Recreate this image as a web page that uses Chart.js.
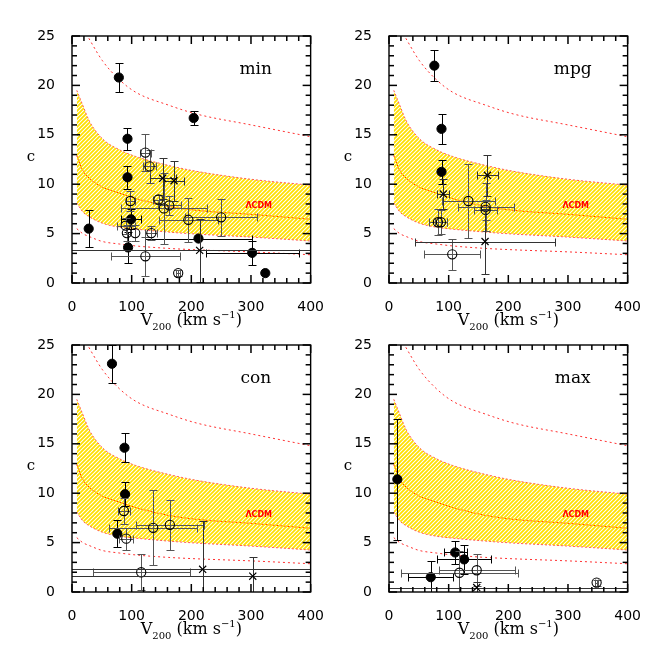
<!DOCTYPE html>
<html>
<head>
<meta charset="utf-8">
<script src="https://cdn.jsdelivr.net/npm/chart.js@4"></script>
<style>
body { margin: 0; background: #fff; }
#wrap { position: relative; width: 664px; height: 664px; overflow: hidden; background: #fff; }
canvas { position: absolute; }
</style>
</head>
<body>
<div id="wrap">
<canvas id="pMin" width="332" height="332" style="left:0;top:0"></canvas>
<canvas id="pMpg" width="332" height="332" style="left:317px;top:0"></canvas>
<canvas id="pCon" width="332" height="332" style="left:0;top:309px"></canvas>
<canvas id="pMax" width="332" height="332" style="left:317px;top:309px"></canvas>
</div>
<script>
// LCDM c(V200) relation (same in every panel)
const bandV = [8, 18, 29, 51, 79, 107, 162, 209, 300, 400];
const bandUpper = [19.5, 18.0, 16.4, 14.6, 13.5, 12.8, 11.9, 11.3, 10.5, 9.9];
const median = [12.9, 11.4, 10.6, 9.7, 9.1, 8.55, 7.75, 7.35, 6.95, 6.45];
const bandLower = [8.1, 7.2, 6.7, 6.05, 5.65, 5.45, 5.15, 4.95, 4.65, 4.25];
const outerLower = [5.5, 5.0, 4.7, 4.2, 3.95, 3.75, 3.5, 3.36, 3.15, 2.86];
const outerUpperV = [24, 51, 79, 107, 162, 209, 300, 400];
const outerUpper = [25.2, 22.5, 20.6, 19.3, 18.0, 17.1, 16.0, 14.8];

// galaxies: [V200, c, dV, dc]
const minFilled = [
	[78.5, 20.8, 0, 1.45], [204, 16.7, 0, 0.7], [93, 14.6, 0, 1.1], [93, 10.7, 0, 1.15],
	[99, 6.45, 17, 1.0], [28, 5.5, 0, 1.9], [94, 3.6, 0, 1.6], [212, 4.5, 90, 0],
	[302, 3.05, 78, 1.2], [324, 1.0, 0, 0],
];
const minOpen = [
	[123, 13.2, 9, 1.85], [130, 11.8, 11, 1.65], [98, 8.3, 8, 1.0], [145, 8.45, 9, 0.5],
	[154, 7.55, 72, 3.6], [163, 7.85, 19, 1.0], [90, 5.8, 15, 0.8], [92, 5.05, 0, 0.8],
	[106, 5.05, 0, 0.8], [133, 5.05, 10, 0.7], [195, 6.4, 50, 2.2], [250, 6.65, 60, 1.9],
	[123, 2.7, 58, 2.0], [178, 1.0, 3, 0.3],
];
const minCross = [[152, 10.6, 22, 2.1], [171, 10.35, 17, 2.0], [214, 3.3, 400, 3.2]];

const mpgFilled = [[76, 22.0, 0, 1.55], [88, 15.6, 0, 1.5], [88, 11.25, 0, 1.25]];
const mpgOpen = [
	[82, 6.15, 15, 1.3], [87, 6.15, 10, 1.2], [133, 8.3, 45, 3.75],
	[162, 7.7, 47, 2.4], [162, 7.4, 19, 1.0], [106, 2.9, 47, 1.6],
];
const mpgCross = [[91, 9.0, 10, 1.5], [165, 10.9, 17, 2.1], [161, 4.2, 118, 3.3]];

const conFilled = [[67, 23.1, 0, 1.9], [88, 14.6, 0, 1.45], [89, 9.9, 0, 1.2], [76, 5.9, 0, 1.35]];
const conOpen = [
	[87, 8.2, 10, 1.35], [91, 5.4, 12, 1.1], [136, 6.5, 74, 3.8],
	[164, 6.8, 57, 2.5], [116, 2.0, 81, 1.8],
];
const conCross = [[219, 2.3, 400, 4.9], [303, 1.6, 400, 1.9]];

const maxFilled = [[14, 11.4, 0, 6.1], [111, 4.0, 19, 1.2], [126, 3.3, 45, 1.5], [70, 1.5, 38, 1.6]];
const maxOpen = [[118, 1.95, 98, 2.2], [147, 2.2, 64, 1.6], [348, 0.95, 3, 0.3]];
const maxCross = [[147, 0.45, 400, 0.6]];

const xTicks = [0, 100, 200, 300, 400];
const yTicks = [0, 5, 10, 15, 20, 25];

function hatch(ctx) {
	const tile = document.createElement("canvas");
	tile.width = 4;
	tile.height = 4;
	const t = tile.getContext("2d");
	t.strokeStyle = "#ffe000";
	t.lineWidth = 1.8;
	t.beginPath();
	t.moveTo(-1, 5); t.lineTo(5, -1);
	t.moveTo(-1, 1); t.lineTo(1, -1);
	t.moveTo(3, 5); t.lineTo(5, 3);
	t.stroke();
	return ctx.createPattern(tile, "repeat");
}

function curve(v, c, color, dash, extra) {
	return Object.assign({
		data: v.map((x, i) => ({ x: x, y: c[i] })),
		borderColor: color,
		borderWidth: 1,
		borderDash: dash,
		pointRadius: 0,
		showLine: true,
		fill: false,
		cubicInterpolationMode: "monotone",
		order: 5,
	}, extra);
}

function points(rows, style, extra) {
	return Object.assign({
		data: rows.map((r) => ({ x: r[0], y: r[1], dx: r[2], dy: r[3] })),
		showLine: false,
		pointStyle: style,
		pointRadius: 4.6,
		borderWidth: 1,
		order: 0,
	}, extra);
}

const errorBars = {
	id: "errorBars",
	beforeDatasetDraw(chart, args) {
		const ds = chart.data.datasets[args.index];
		if (!ds.errColor) return;
		const { ctx, chartArea: a, scales: { x, y } } = chart;
		ctx.save();
		ctx.beginPath();
		ctx.rect(a.left, a.top, a.right - a.left, a.bottom - a.top);
		ctx.clip();
		ctx.setLineDash([]);
		ctx.strokeStyle = ds.errColor;
		ctx.lineWidth = 1;
		const cap = 4;
		ds.data.forEach((p) => {
			const px = Math.round(x.getPixelForValue(p.x)) + 0.5;
			const py = Math.round(y.getPixelForValue(p.y)) + 0.5;
			ctx.beginPath();
			if (p.dx) {
				const x0 = Math.round(x.getPixelForValue(p.x - p.dx)) + 0.5;
				const x1 = Math.round(x.getPixelForValue(p.x + p.dx)) + 0.5;
				ctx.moveTo(x0, py); ctx.lineTo(x1, py);
				ctx.moveTo(x0, py - cap); ctx.lineTo(x0, py + cap);
				ctx.moveTo(x1, py - cap); ctx.lineTo(x1, py + cap);
			}
			if (p.dy) {
				const y0 = Math.round(y.getPixelForValue(p.y - p.dy)) + 0.5;
				const y1 = Math.round(y.getPixelForValue(p.y + p.dy)) + 0.5;
				ctx.moveTo(px, y0); ctx.lineTo(px, y1);
				ctx.moveTo(px - cap, y0); ctx.lineTo(px + cap, y0);
				ctx.moveTo(px - cap, y1); ctx.lineTo(px + cap, y1);
			}
			ctx.stroke();
		});
		ctx.restore();
	},
};

// box with inward ticks on all four sides, plus the text labels
const frame = {
	id: "frame",
	afterDraw(chart, args, opts) {
		const { ctx, chartArea: a, scales: { x, y } } = chart;
		ctx.save();
		ctx.fillStyle = "#000";
		for (let v = 0; v <= 400; v += 20) {
			const px = x.getPixelForValue(v);
			const len = v % 100 === 0 ? 8 : 5;
			ctx.fillRect(px - 0.75, a.bottom - len, 1.5, len);
			ctx.fillRect(px - 0.75, a.top, 1.5, len);
		}
		for (let k = 0; k <= 25; k += 1) {
			const py = y.getPixelForValue(k);
			const len = k % 5 === 0 ? 8 : 5;
			ctx.fillRect(a.left, py - 0.75, len, 1.5);
			ctx.fillRect(a.right - len, py - 0.75, len, 1.5);
		}
		ctx.strokeStyle = "#000";
		ctx.setLineDash([]);
		ctx.lineWidth = 1.4;
		ctx.strokeRect(a.left, a.top, a.right - a.left, a.bottom - a.top);

		ctx.textBaseline = "middle";
		ctx.textAlign = "center";
		ctx.font = "17px 'DejaVu Serif'";
		ctx.fillText(opts.name, x.getPixelForValue(308), y.getPixelForValue(21.6));

		ctx.font = "15px 'DejaVu Serif'";
		ctx.fillText("c", a.left - 41, (a.top + a.bottom) / 2 - 2);

		ctx.fillStyle = "#ff0000";
		ctx.font = "bold 8px 'DejaVu Sans'";
		ctx.fillText("ΛCDM", x.getPixelForValue(313), y.getPixelForValue(7.8));

		// x axis title with subscript / superscript
		ctx.fillStyle = "#000";
		ctx.textAlign = "left";
		ctx.textBaseline = "alphabetic";
		const parts = [
			["V", "16px 'DejaVu Serif'", 0],
			["200", "10px 'DejaVu Serif'", 5],
			[" (km s", "16px 'DejaVu Serif'", 0],
			["−1", "10px 'DejaVu Serif'", -7],
			[")", "16px 'DejaVu Serif'", 0],
		];
		let w = 0;
		parts.forEach((p) => { ctx.font = p[1]; w += ctx.measureText(p[0]).width; });
		let tx = (a.left + a.right) / 2 - w / 2;
		const base = a.bottom + 42;
		parts.forEach((p) => {
			ctx.font = p[1];
			ctx.fillText(p[0], tx, base + p[2]);
			tx += ctx.measureText(p[0]).width;
		});
		ctx.restore();
	},
};

function makePanel(id, name, filled, open, cross) {
	const ctx = document.getElementById(id).getContext("2d");
	const tickFont = { family: "DejaVu Sans", size: 14 };
	return new Chart(ctx, {
		type: "line",
		data: {
			datasets: [
				curve(bandV, bandUpper, "#ff5a5a", [2, 2]),
				curve(bandV, bandLower, "#ff5a5a", [2, 2], { fill: "-1", backgroundColor: hatch(ctx) }),
				curve(bandV, median, "#ff1a00", []),
				curve(outerUpperV, outerUpper, "#ff3030", [2, 3]),
				curve(bandV, outerLower, "#ff3030", [2, 3]),
				points(cross, "crossRot", { borderColor: "#000", pointRadius: 5, borderWidth: 1.2, errColor: "#333" }),
				points(open, "circle", { borderColor: "#000", backgroundColor: "rgba(0,0,0,0)", borderWidth: 1.1, errColor: "#555" }),
				points(filled, "circle", { borderColor: "#000", backgroundColor: "#000", errColor: "#000" }),
			],
		},
		options: {
			responsive: false,
			animation: false,
			devicePixelRatio: 1,
			layout: { padding: { left: 0, right: 20, top: 36, bottom: 0 } },
			plugins: {
				legend: { display: false },
				tooltip: { enabled: false },
				frame: { name: name },
			},
			scales: {
				x: {
					type: "linear",
					min: 0,
					max: 400,
					grid: { display: false },
					border: { display: false },
					afterBuildTicks: (s) => { s.ticks = xTicks.map((v) => ({ value: v })); },
					ticks: { padding: 8, color: "#000", font: tickFont, maxRotation: 0 },
					afterFit: (s) => { s.height = 49; },
				},
				y: {
					type: "linear",
					min: 0,
					max: 25,
					grid: { display: false },
					border: { display: false },
					afterBuildTicks: (s) => { s.ticks = yTicks.map((v) => ({ value: v })); },
					ticks: { padding: 9, color: "#000", font: tickFont },
					afterFit: (s) => { s.width = 72; },
				},
			},
		},
		plugins: [errorBars, frame],
	});
}

makePanel("pMin", "min", minFilled, minOpen, minCross);
makePanel("pMpg", "mpg", mpgFilled, mpgOpen, mpgCross);
makePanel("pCon", "con", conFilled, conOpen, conCross);
makePanel("pMax", "max", maxFilled, maxOpen, maxCross);
</script>
</body>
</html>
